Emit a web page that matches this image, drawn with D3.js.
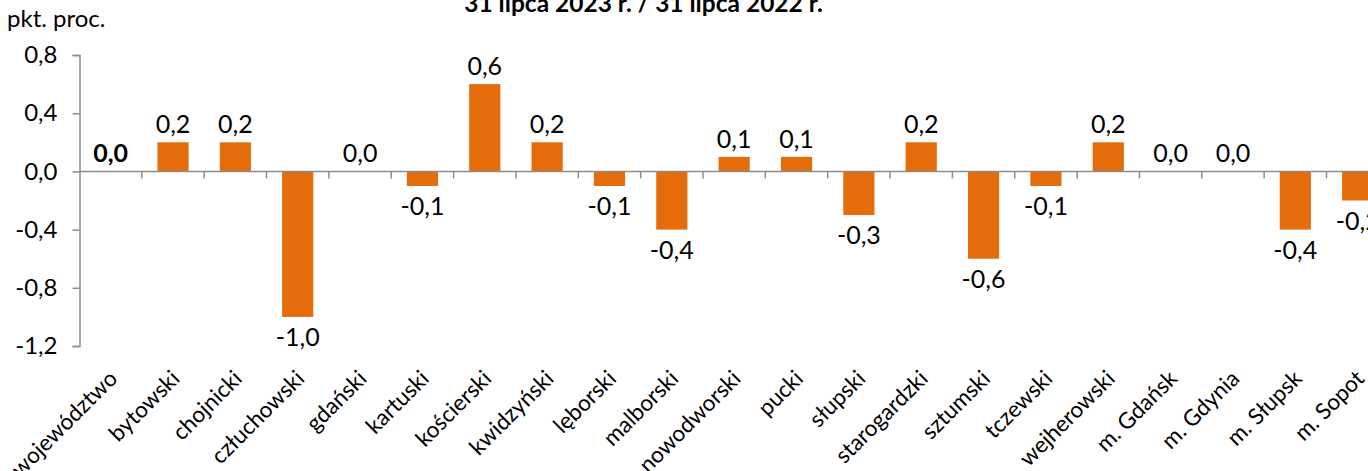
<!DOCTYPE html>
<html>
<head>
<meta charset="utf-8">
<script src="https://cdn.jsdelivr.net/npm/d3@7"></script>
<style>
  html, body { margin: 0; padding: 0; background: #ffffff; overflow: hidden; }
  svg { display: block; }
  text { font-family: Lato, Carlito, Calibri, "Open Sans", sans-serif; fill: #000; }
</style>
</head>
<body>
<svg id="chart" width="1368" height="471"></svg>
<script>
const categories = ["województwo", "bytowski", "chojnicki", "człuchowski", "gdański", "kartuski",
  "kościerski", "kwidzyński", "lęborski", "malborski", "nowodworski", "pucki", "słupski",
  "starogardzki", "sztumski", "tczewski", "wejherowski", "m. Gdańsk", "m. Gdynia", "m. Słupsk", "m. Sopot"];
const values = [0.0, 0.2, 0.2, -1.0, 0.0, -0.1, 0.6, 0.2, -0.1, -0.4, 0.1, 0.1, -0.3,
  0.2, -0.6, -0.1, 0.2, 0.0, 0.0, -0.4, -0.2];
const yTicks = [0.8, 0.4, 0.0, -0.4, -0.8, -1.2];
const titleText = "31 lipca 2023 r. / 31 lipca 2022 r.";
const unitText = "pkt. proc.";

const svg = d3.select("#chart");
const axisColor = "#8c8c8c";
const barColor = "#E46C0A";

const left = 79.5, step = 62.35;
const x = d3.scaleBand()
  .domain(categories)
  .range([left, left + step * categories.length])
  .paddingInner(0.5)
  .paddingOuter(0.25);
const y = d3.scaleLinear().domain([-1.2, 0.8]).range([346, 55]);

const fmt = v => d3.format(".1f")(v).replace(".", ",").replace("−", "-");

// title
svg.append("text")
  .attr("x", 643.5).attr("y", 12)
  .attr("text-anchor", "middle")
  .style("font-size", "24.5px").style("font-weight", "bold")
  .text(titleText);

// unit label
svg.append("text")
  .attr("x", 7).attr("y", 27)
  .style("font-size", "24px")
  .text(unitText);

// y axis
const yAxis = d3.axisLeft(y).tickValues(yTicks).tickSize(7).tickPadding(15).tickFormat(fmt);
const gy = svg.append("g").attr("transform", `translate(${left},0)`).call(yAxis);
gy.select(".domain").attr("stroke", axisColor).attr("stroke-width", 1.5);
gy.selectAll(".tick line").attr("stroke", axisColor).attr("stroke-width", 1.5);
gy.selectAll(".tick text").style("font-size", "24px").style("font-family", "Lato, Carlito, Calibri, sans-serif").attr("fill", "#000");

// bars
svg.append("g").selectAll("rect")
  .data(values)
  .join("rect")
  .attr("x", (d, i) => x(categories[i]))
  .attr("width", x.bandwidth())
  .attr("y", d => y(Math.max(0, d)))
  .attr("height", d => Math.abs(y(d) - y(0)))
  .attr("fill", barColor);

// x axis line with category-boundary ticks
const gx = svg.append("g");
gx.append("line")
  .attr("x1", left).attr("x2", 1368)
  .attr("y1", y(0)).attr("y2", y(0))
  .attr("stroke", axisColor).attr("stroke-width", 1.5);
gx.selectAll("line.tk")
  .data(categories)
  .join("line")
  .attr("class", "tk")
  .attr("x1", (d) => x(d) + x.bandwidth() * 1.5)
  .attr("x2", (d) => x(d) + x.bandwidth() * 1.5)
  .attr("y1", y(0)).attr("y2", y(0) + 7)
  .attr("stroke", axisColor).attr("stroke-width", 1.5);

// data labels
svg.append("g").selectAll("text")
  .data(values)
  .join("text")
  .attr("x", (d, i) => x(categories[i]) + x.bandwidth() / 2)
  .attr("y", d => d >= 0 ? y(d) - 9 : y(d) + 29)
  .attr("text-anchor", "middle")
  .style("font-size", "25px")
  .style("font-weight", (d, i) => i === 0 ? "bold" : "normal")
  .text(d => fmt(d));

// category labels
svg.append("g").selectAll("text")
  .data(categories)
  .join("text")
  .attr("transform", d => `translate(${x(d) + x.bandwidth() / 2 + 8},380) rotate(-45)`)
  .attr("text-anchor", "end")
  .style("font-size", "22.5px")
  .text(d => d);
</script>
</body>
</html>
